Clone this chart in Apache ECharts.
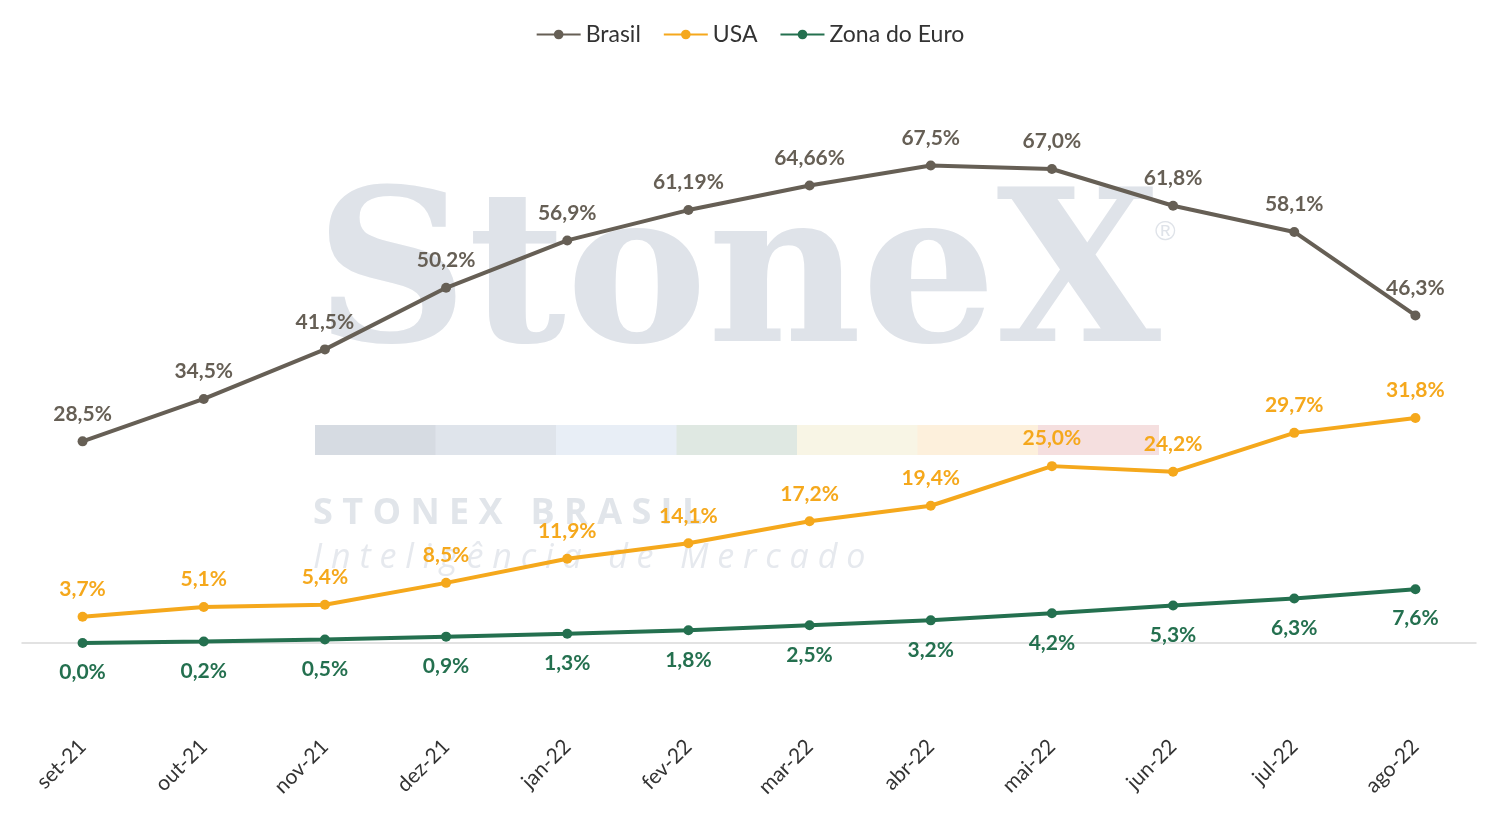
<!DOCTYPE html>
<html><head><meta charset="utf-8">
<script src="https://cdn.jsdelivr.net/npm/echarts@6/dist/echarts.min.js"></script>
<style>html,body{margin:0;padding:0;background:#fff}#c{width:1500px;height:827px}</style>
</head><body><div id="c"></div>
<script>
const categories = ['set-21','out-21','nov-21','dez-21','jan-22','fev-22','mar-22','abr-22','mai-22','jun-22','jul-22','ago-22'];
const brasil = [28.5,34.5,41.5,50.2,56.9,61.19,64.66,67.5,67.0,61.8,58.1,46.3];
const usa = [3.7,5.1,5.4,8.5,11.9,14.1,17.2,19.4,25.0,24.2,29.7,31.8];
const euro = [0.0,0.2,0.5,0.9,1.3,1.8,2.5,3.2,4.2,5.3,6.3,7.6];
const brasilLabels = ['28,5%','34,5%','41,5%','50,2%','56,9%','61,19%','64,66%','67,5%','67,0%','61,8%','58,1%','46,3%'];
const usaLabels = ['3,7%','5,1%','5,4%','8,5%','11,9%','14,1%','17,2%','19,4%','25,0%','24,2%','29,7%','31,8%'];
const euroLabels = ['0,0%','0,2%','0,5%','0,9%','1,3%','1,8%','2,5%','3,2%','4,2%','5,3%','6,3%','7,6%'];
const font = 'Lato, "Open Sans", sans-serif';
const chart = echarts.init(document.getElementById('c'));
function mk(name, data, labels, color, pos, dist){
  return {name, type:'line', data, symbol:'circle', symbolSize:10, z:5,
    lineStyle:{color, width:4}, itemStyle:{color},
    label:{show:true, position:pos, distance:dist, color, fontSize:21, fontWeight:'bold', fontFamily:font,
      formatter:p=>labels[p.dataIndex]}};
}
const strip = ['#d6dbe2','#dfe4eb','#e8eef6','#dfe8e2','#f8f5e5','#fdf0dc','#f5dfdf'];
const graphic = [
  {type:'text', left:315, top:180, z:0, style:{text:'StoneX', font:'bold 212px "DejaVu Serif", serif', fill:'#dfe3e9'}},
  {type:'text', left:1155, top:218, z:0, style:{text:'®', font:'28px sans-serif', fill:'#dfe3e9'}},
  {type:'text', left:313, top:496, z:0, style:{text:'S T O N E X   B R A S I L', font:'bold 36px "Open Sans", sans-serif', fill:'#e1e5ea'}},
  {type:'text', left:313, top:541, z:0, style:{text:'I n t e l i g ê n c i a   d e   M e r c a d o', font:'italic 34px "Open Sans", sans-serif', fill:'#e6e9ee'}}
];
strip.forEach((c,i)=>graphic.push({type:'rect', z:0, shape:{x:315+i*120.5, y:425, width:121, height:30}, style:{fill:c}}));
chart.setOption({
  animation:false,
  graphic,
  legend:{top:18, left:'center', itemWidth:44, itemHeight:12, itemGap:22,
    textStyle:{fontSize:23, color:'#333', fontFamily:font}},
  grid:{left:22, right:24, top:77, bottom:184},
  xAxis:{type:'category', data:categories, boundaryGap:true,
    axisLine:{lineStyle:{color:'#d9d9d9', width:1.5}}, axisTick:{show:false},
    axisLabel:{rotate:45, fontSize:21, color:'#333', fontFamily:font, margin:100, interval:0}},
  yAxis:{type:'value', min:0, max:80, show:false, splitLine:{show:false}},
  series:[
    mk('Brasil', brasil, brasilLabels, '#665f55', 'top', 12),
    mk('USA', usa, usaLabels, '#f5a81c', 'top', 12),
    mk('Zona do Euro', euro, euroLabels, '#24704f', 'bottom', 14)
  ]
});
</script></body></html>
